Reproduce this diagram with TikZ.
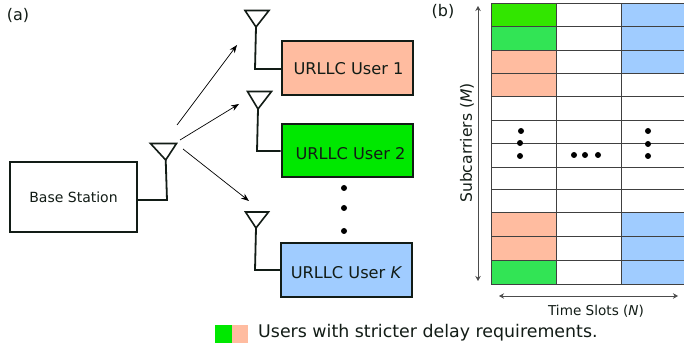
\documentclass[tikz,border=0pt]{standalone}
\usepackage{fontspec}
\setmainfont{DejaVu Sans}
\usetikzlibrary{arrows.meta}
\definecolor{salmon}{RGB}{255,188,160}
\definecolor{brightg}{RGB}{0,232,0}
\definecolor{topg}{RGB}{50,230,0}
\definecolor{midg}{RGB}{50,228,85}
\definecolor{skyb}{RGB}{160,204,255}
\definecolor{ink}{RGB}{18,28,22}
\tikzset{
  box/.style={draw=ink,line width=2pt,minimum height=0pt,minimum width=0pt,inner sep=0pt,font=\fontsize{16.2}{18}\selectfont,text=ink},
  feed/.style={draw=ink,line width=1.8pt},
  ant/.style={draw=ink,line width=1.6pt,line join=miter},
  ray/.style={draw=black,line width=0.7pt,-{Stealth[length=8pt,width=6pt]}},
  gridline/.style={draw=black!75,line width=1pt},
  axis/.style={draw=black!70,line width=0.9pt,{Stealth[length=5pt,width=5.5pt]}-{Stealth[length=5pt,width=5.5pt]}},
  dotn/.style={circle,fill=black,inner sep=0pt,minimum size=5.5pt},
  lab/.style={inner sep=0pt,text=ink}
}
\newcommand{\shiftdown}[2]{\raisebox{-#1}[\height][\depth]{#2}}
\begin{document}
\begin{tikzpicture}[x=1pt,y=-1pt]
\useasboundingbox (0,0) rectangle (684,352);
\fill[white] (0,0) rectangle (684,352);
% left panel
\node[lab,font=\fontsize{16}{18}\selectfont] (la) at (18,15) {(a)};
\node[box,fill=white,minimum width=127pt,minimum height=70pt,font=\fontsize{14}{16}\selectfont] (bs) at (73.5,197.5) {Base Station};
\node[box,fill=salmon,minimum width=131pt,minimum height=54pt] (u1) at (347.5,68.5) {\hspace*{2pt}\shiftdown{0.5pt}{URLLC User 1}};
\node[box,fill=brightg,minimum width=131pt,minimum height=53pt] (u2) at (347,151) {\hspace*{7pt}\shiftdown{3pt}{URLLC User 2}};
\node[box,fill=skyb,minimum width=131pt,minimum height=54pt] (uk) at (346.5,270) {\shiftdown{3pt}{URLLC User \textit{K}}};
% antennas
\coordinate (a0) at (165.7,160);
\coordinate (a1) at (256,27);
\coordinate (a2) at (258,109);
\coordinate (a3) at (256,228);
\draw[ant] (150.5,143.5) -- (176.5,143.5) -- (a0) -- cycle;
\draw[ant] (245,10.5) -- (269,10.5) -- (a1) -- cycle;
\draw[ant] (247.5,91.5) -- (271.5,91.5) -- (a2) -- cycle;
\draw[ant] (245.5,212) -- (268.5,212) -- (a3) -- cycle;
\draw[feed] (a0) -- (167,200) -- (bs.east |- 0,200);
\draw[feed] (a1) -- (255,69) -- (u1.west |- 0,69);
\draw[feed] (a2) -- (257,151) -- (u2.west |- 0,151);
\draw[feed] (a3) -- (255,270) -- (uk.west |- 0,270);
% rays
\coordinate (r1s) at (177,125);\coordinate (r1e) at (237,45);
\coordinate (r2s) at (180,140);\coordinate (r2e) at (239,104);
\coordinate (r3s) at (183,149);\coordinate (r3e) at (249,201);
\draw[ray] (r1s) -- (r1e);
\draw[ray] (r2s) -- (r2e);
\draw[ray] (r3s) -- (r3e);
\node[dotn,minimum size=6pt] (d1) at (344,188) {};
\node[dotn,minimum size=6pt] (d2) at (344,208) {};
\node[dotn,minimum size=6pt] (d3) at (344,231) {};
% right panel
\node[lab,font=\fontsize{16}{18}\selectfont] (lb) at (443,11) {(b)};
\fill[topg] (491,4) rectangle (556,27);
\fill[midg] (491,27) rectangle (556,51);
\fill[salmon] (491,51) rectangle (556,97);
\fill[salmon] (491,213) rectangle (556,260);
\fill[midg] (491,260) rectangle (556,284);
\fill[skyb] (621,4) rectangle (684,74);
\fill[skyb] (621,213) rectangle (684,284);
\foreach \yy in {4,27,51,74,97,121,144,168,190,213,237,260,284}
  \draw[gridline] (491,\yy) -- (684,\yy);
\foreach \xx in {491,556,621}
  \draw[gridline] (\xx,4) -- (\xx,284);
\foreach \xx/\yy in {521/131,520/143,520/156,574/155,585/155,598/155,648/131,648/144,648/156}
  \fill[black] (\xx,\yy) circle (3pt);
\coordinate (vt) at (478,6);\coordinate (vb) at (478,281);
\coordinate (hl) at (499,296);\coordinate (hr) at (678,296);
\draw[axis] (vt) -- (vb);
\draw[axis] (hl) -- (hr);
\node[lab,rotate=90,font=\fontsize{15.6}{18}\selectfont] (sc) at (467,143) {Subcarriers (\textit{M})};
\node[lab,font=\fontsize{13.6}{16}\selectfont] (ts) at (596,311.5) {Time Slots (\textit{N})};
% legend
\fill[brightg] (215,325) rectangle (231.5,343);
\fill[salmon] (231.5,325) rectangle (248,343);
\node[lab,anchor=west,font=\fontsize{17.4}{20}\selectfont] (lg) at (258,333) {Users with stricter delay requirements.};
\end{tikzpicture}
\end{document}
